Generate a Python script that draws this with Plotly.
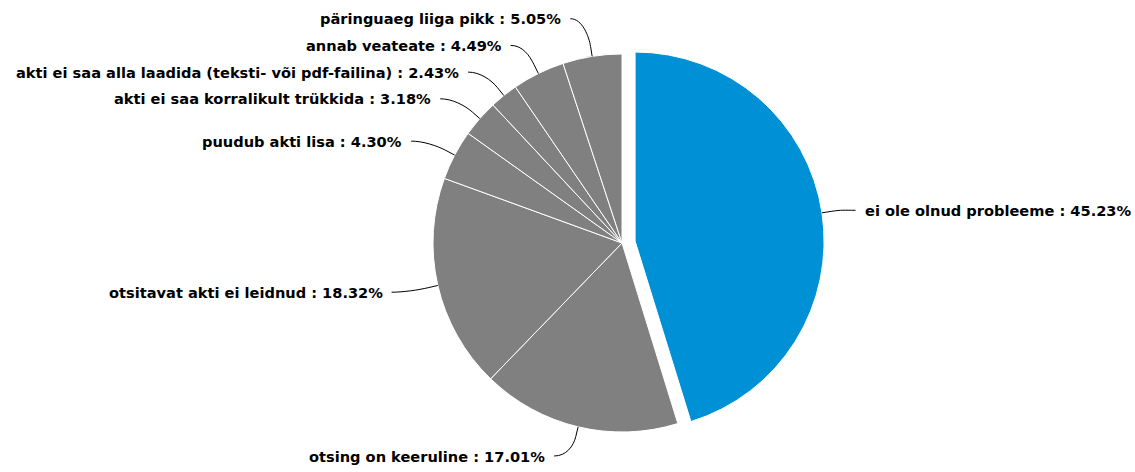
import math
import plotly.graph_objects as go

# ---- data ----
labels = [
    "ei ole olnud probleeme",
    "otsing on keeruline",
    "otsitavat akti ei leidnud",
    "puudub akti lisa",
    "akti ei saa korralikult trükkida",
    "akti ei saa alla laadida (teksti- või pdf-failina)",
    "annab veateate",
    "päringuaeg liiga pikk",
]
values = [45.23, 17.01, 18.32, 4.30, 3.18, 2.43, 4.49, 5.05]
colors = ["#0090d5"] + ["#808080"] * 7
sliced = [True] + [False] * 7

# ---- geometry (pixels) ----
W, H = 1135, 472
CX, CY, R = 622, 243, 189
PULL = 0.07
LABEL_DIST = 30
LABEL_H = 26.7
TEXT_GAP = 24
CONN_GAP = 17
BREAK = 10

box = 2 * R * (1 + PULL)
dom_x = [(CX - box / 2) / W, (CX + box / 2) / W]
dom_y = [(H - CY - box / 2) / H, (H - CY + box / 2) / H]

fig = go.Figure()
fig.add_trace(go.Pie(
    labels=labels, values=values, sort=False, direction="clockwise", rotation=0,
    marker=dict(colors=colors, line=dict(color="#ffffff", width=1)),
    pull=[PULL if s else 0 for s in sliced],
    textinfo="none", hoverinfo="skip", showlegend=False,
    domain=dict(x=dom_x, y=dom_y),
))

def px(x, y):
    return x / W, 1 - y / H

total = sum(values)
pts = []
cum = 0.0
for lab, v, s in zip(labels, values, sliced):
    mid = (cum + v / 2) / total * 2 * math.pi
    cum += v
    sx, sy = math.sin(mid), -math.cos(mid)
    off = (R * PULL * sx, R * PULL * sy) if s else (0.0, 0.0)
    nat_y = CY + (R + LABEL_DIST) * sy
    pts.append(dict(lab=lab, v=v, sx=sx, sy=sy, off=off, nat=nat_y,
                    left=mid > math.pi))

left = sorted([p for p in pts if p["left"]], key=lambda p: -p["nat"])
right = sorted([p for p in pts if not p["left"]], key=lambda p: p["nat"])

prev = None
for p in left:
    y = p["nat"] if prev is None else min(p["nat"], prev - LABEL_H)
    p["y"] = y
    prev = y
prev = None
for p in right:
    y = p["nat"] if prev is None else max(p["nat"], prev + LABEL_H)
    p["y"] = y
    prev = y

RL = R + LABEL_DIST
def getx(y, is_left):
    d = max(-1.0, min(1.0, (y - CY) / RL))
    return CX + (-1 if is_left else 1) * math.cos(math.asin(d)) * RL

for side in (left, right):
    for i, p in enumerate(side):
        yy = p["nat"] if i in (0, len(side) - 1) else p["y"]
        p["x"] = getx(yy, p["left"])

font = dict(family="DejaVu Sans, Verdana, sans-serif", size=14.6, color="#000000", weight="bold")
for p in pts:
    sgn = -1 if p["left"] else 1
    tx = p["x"] + sgn * TEXT_GAP
    ax, ay = px(tx, p["y"])
    fig.add_annotation(x=ax, y=ay, xref="paper", yref="paper", showarrow=False,
                       text=f"{p['lab']} : {p['v']:.2f}%", font=font,
                       xanchor="right" if p["left"] else "left", yanchor="middle")
    ox, oy = p["off"]
    ex, ey = CX + ox + R * p["sx"], CY + oy + R * p["sy"]
    bx, by = CX + ox + (R + BREAK) * p["sx"], CY + oy + (R + BREAK) * p["sy"]
    sx0, sy0 = p["x"] + sgn * CONN_GAP, p["y"]
    c1x, c1y = p["x"] + sgn * 5, p["y"]
    c2x, c2y = 2 * bx - ex, 2 * by - ey
    P = [px(*q) for q in [(sx0, sy0), (c1x, c1y), (c2x, c2y), (bx, by), (ex, ey)]]
    path = (f"M {P[0][0]} {P[0][1]} C {P[1][0]} {P[1][1]}, {P[2][0]} {P[2][1]}, "
            f"{P[3][0]} {P[3][1]} L {P[4][0]} {P[4][1]}")
    fig.add_shape(type="path", path=path, xref="paper", yref="paper",
                  line=dict(color="#000000", width=1))

fig.update_layout(width=W, height=H, margin=dict(l=0, r=0, t=0, b=0),
                  paper_bgcolor="#ffffff", plot_bgcolor="#ffffff", showlegend=False)
fig.write_html("out.html", config={"displayModeBar": False},
               post_script="document.body.style.margin='0px';")
